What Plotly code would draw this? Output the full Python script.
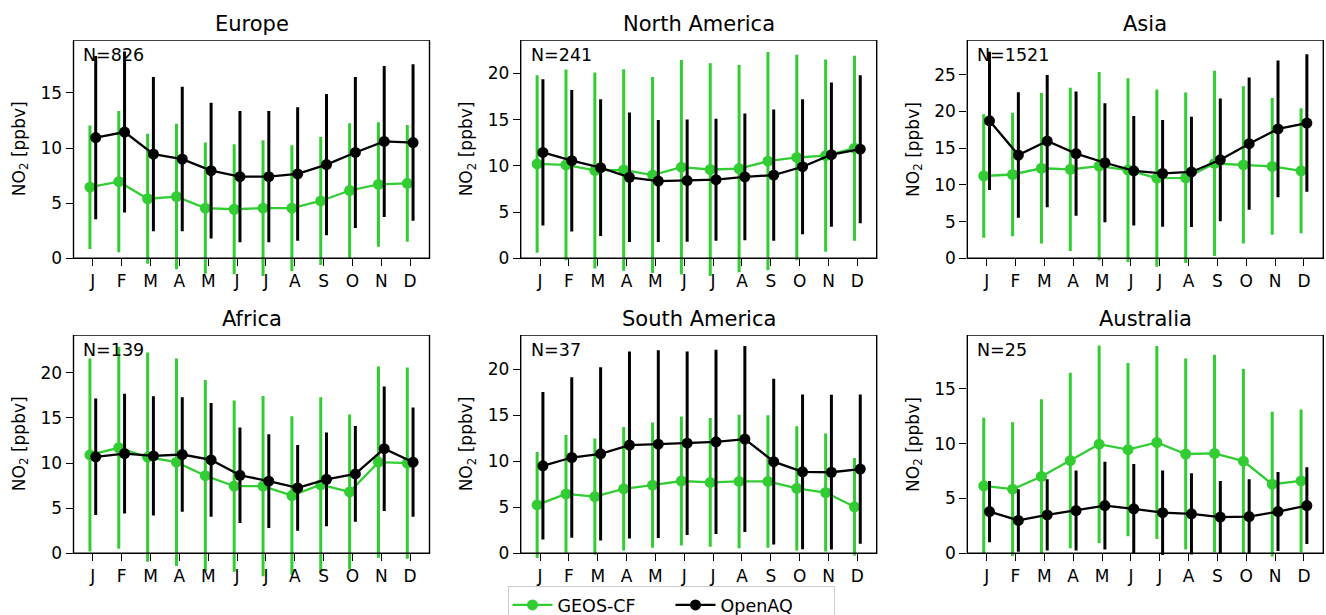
import numpy as np
import plotly.graph_objects as go

months = ["J", "F", "M", "A", "M", "J", "J", "A", "S", "O", "N", "D"]
regions = ["Europe", "North America", "Asia", "Africa", "South America", "Australia"]
n_sites = [826, 241, 1521, 139, 37, 25]

# GEOS-CF monthly mean and std (ppbv)
geos_europe_mean = [6.45, 6.95, 5.4, 5.6, 4.55, 4.45, 4.55, 4.55, 5.2, 6.15, 6.7, 6.8]
geos_europe_std = [5.6, 6.4, 5.9, 6.6, 5.95, 5.9, 6.15, 5.7, 5.8, 6.1, 5.65, 5.3]
geos_namerica_mean = [10.2, 10.1, 9.5, 9.55, 9.0, 9.85, 9.6, 9.7, 10.5, 10.9, 11.1, 11.9]
geos_namerica_std = [9.6, 10.3, 10.6, 10.9, 10.6, 11.6, 11.5, 11.2, 11.8, 11.1, 10.4, 10.0]
geos_asia_mean = [11.2, 11.4, 12.25, 12.1, 12.55, 12.0, 10.9, 10.95, 12.9, 12.7, 12.5, 11.9]
geos_asia_std = [8.4, 8.4, 10.25, 11.1, 12.8, 12.5, 12.05, 11.6, 12.6, 10.7, 9.3, 8.5]
geos_africa_mean = [10.9, 11.7, 10.65, 10.1, 8.6, 7.45, 7.45, 6.4, 7.6, 6.8, 10.1, 10.0]
geos_africa_std = [10.7, 11.2, 11.6, 11.5, 10.6, 9.5, 10.0, 8.8, 9.7, 8.6, 10.6, 10.6]
geos_samerica_mean = [5.25, 6.45, 6.15, 7.0, 7.4, 7.85, 7.7, 7.8, 7.8, 7.05, 6.6, 5.05]
geos_samerica_std = [5.75, 6.4, 6.3, 6.7, 6.8, 7.0, 7.0, 7.25, 7.2, 6.75, 6.4, 5.3]
geos_australia_mean = [6.15, 5.85, 7.0, 8.45, 9.95, 9.45, 10.1, 9.05, 9.1, 8.4, 6.3, 6.6]
geos_australia_std = [6.2, 6.1, 7.05, 8.0, 9.0, 7.9, 8.8, 8.7, 9.0, 8.4, 6.6, 6.5]

# OpenAQ monthly mean and std (ppbv)
oaq_europe_mean = [10.95, 11.45, 9.45, 9.0, 7.95, 7.4, 7.4, 7.65, 8.5, 9.6, 10.6, 10.5]
oaq_europe_std = [7.4, 7.3, 7.0, 6.55, 6.15, 5.95, 5.95, 6.05, 6.4, 6.85, 6.85, 7.1]
oaq_namerica_mean = [11.45, 10.55, 9.8, 8.75, 8.35, 8.4, 8.5, 8.8, 9.0, 9.9, 11.2, 11.8]
oaq_namerica_std = [7.9, 7.65, 7.4, 7.0, 6.6, 6.6, 6.6, 6.85, 7.1, 7.3, 7.8, 8.0]
oaq_asia_mean = [18.7, 14.05, 15.95, 14.25, 13.0, 11.9, 11.55, 11.75, 13.4, 15.6, 17.6, 18.4]
oaq_asia_std = [9.4, 8.55, 9.0, 8.45, 8.1, 7.45, 7.25, 7.5, 8.35, 9.0, 9.3, 9.35]
oaq_africa_mean = [10.7, 11.05, 10.8, 10.95, 10.35, 8.65, 8.0, 7.25, 8.2, 8.8, 11.6, 10.1]
oaq_africa_std = [6.45, 6.65, 6.6, 6.35, 6.3, 5.3, 5.2, 4.75, 5.2, 5.3, 6.9, 6.05]
oaq_samerica_mean = [9.5, 10.4, 10.8, 11.75, 11.85, 11.95, 12.1, 12.4, 9.95, 8.85, 8.8, 9.15]
oaq_samerica_std = [8.0, 8.7, 9.4, 10.15, 10.2, 9.95, 10.0, 10.1, 9.0, 8.4, 8.4, 8.1]
oaq_australia_mean = [3.8, 3.0, 3.5, 3.9, 4.35, 4.05, 3.7, 3.6, 3.3, 3.35, 3.8, 4.35]
oaq_australia_std = [2.8, 2.85, 3.25, 3.65, 4.0, 4.1, 3.85, 3.7, 3.3, 3.4, 3.6, 3.5]

geos_mean = [geos_europe_mean, geos_namerica_mean, geos_asia_mean,
             geos_africa_mean, geos_samerica_mean, geos_australia_mean]
geos_std = [geos_europe_std, geos_namerica_std, geos_asia_std,
            geos_africa_std, geos_samerica_std, geos_australia_std]
oaq_mean = [oaq_europe_mean, oaq_namerica_mean, oaq_asia_mean,
            oaq_africa_mean, oaq_samerica_mean, oaq_australia_mean]
oaq_std = [oaq_europe_std, oaq_namerica_std, oaq_asia_std,
           oaq_africa_std, oaq_samerica_std, oaq_australia_std]
y_top = [19.8, 23.6, 29.7, 24.2, 23.7, 19.9]

W, H = 1326, 615
GREEN = "#32cd32"
FONT = "DejaVu Sans"
col_px = [(73.5, 429.5), (520.7, 876.7), (967.3, 1323.3)]
row_px = [(40, 258.3), (335, 553.3)]
title_y_px = [24, 319]
EXT = 28  # px of plot area below the zero line (error bars are not clipped there)

xpos = np.arange(len(months))
off = 0.1

fig = go.Figure()
annotations = []
shapes = []
layout_axes = {}
for i, reg in enumerate(regions):
    r, c = divmod(i, 3)
    k = "" if i == 0 else str(i + 1)
    xa, ya = "x" + k, "y" + k
    x0, x1 = col_px[c][0] / W, col_px[c][1] / W
    top_px, zero_px = row_px[r]
    ppu = (zero_px - top_px) / y_top[i]
    y_min = -EXT / ppu
    yd0, yd1 = 1 - (zero_px + EXT) / H, 1 - top_px / H
    fig.add_trace(go.Scatter(
        x=xpos - off, y=geos_mean[i], mode="lines+markers", name="GEOS-CF",
        line=dict(color=GREEN, width=2.3), marker=dict(color=GREEN, size=11),
        error_y=dict(type="data", array=geos_std[i], color=GREEN, thickness=3, width=0),
        xaxis=xa, yaxis=ya, showlegend=(i == 0), legendgroup="g"))
    fig.add_trace(go.Scatter(
        x=xpos + off, y=oaq_mean[i], mode="lines+markers", name="OpenAQ",
        line=dict(color="black", width=2.3), marker=dict(color="black", size=11),
        error_y=dict(type="data", array=oaq_std[i], color="black", thickness=3, width=0),
        xaxis=xa, yaxis=ya, showlegend=(i == 0), legendgroup="o"))
    common = dict(showline=False, ticks="outside", ticklen=7, tickwidth=1.4, tickcolor="black",
                  showgrid=False, zeroline=False,
                  tickfont=dict(family=FONT, size=17, color="black"))
    layout_axes["xaxis" + k] = dict(domain=[x0, x1], anchor="free", position=1 - zero_px / H,
                                    range=[-0.67, 11.67],
                                    tickmode="array", tickvals=xpos, ticktext=months, **common)
    layout_axes["yaxis" + k] = dict(domain=[yd0, yd1], anchor=xa, range=[y_min, y_top[i]],
                                    tickmode="linear", tick0=0, dtick=5, **common)
    # axes frame (spines)
    shapes.append(dict(type="rect", xref=xa + " domain", yref=ya, x0=0, x1=1,
                       y0=0, y1=y_top[i], line=dict(color="black", width=1.4),
                       fillcolor="rgba(0,0,0,0)", layer="above"))
    annotations.append(dict(text=reg, x=(x0 + x1) / 2, y=1 - title_y_px[r] / H,
                            xref="paper", yref="paper", xanchor="center", yanchor="middle",
                            showarrow=False, font=dict(family=FONT, size=21, color="black")))
    annotations.append(dict(text="N=%d" % n_sites[i], x=0.022, y=y_top[i], yshift=-3,
                            xref=xa + " domain", yref=ya,
                            xanchor="left", yanchor="top", showarrow=False,
                            font=dict(family=FONT, size=17.5, color="black")))
    annotations.append(dict(text="NO<sub>2</sub> [ppbv]", textangle=-90,
                            x=(col_px[c][0] - 53.5) / W, y=1 - (top_px + zero_px) / 2 / H,
                            xref="paper", yref="paper", xanchor="center", yanchor="middle",
                            showarrow=False, font=dict(family=FONT, size=17, color="black")))

fig.update_layout(
    width=W, height=H,
    margin=dict(l=0, r=0, t=0, b=0, autoexpand=False),
    paper_bgcolor="white", plot_bgcolor="white",
    font=dict(family=FONT, color="black"),
    annotations=annotations,
    shapes=shapes,
    legend=dict(orientation="h", x=671 / W, y=1 - 586 / H, xanchor="center", yanchor="top",
                bordercolor="#cccccc", borderwidth=1, bgcolor="white",
                itemwidth=40, entrywidth=108,
                font=dict(family=FONT, size=17.5, color="black")),
    **layout_axes,
)
fig.write_html("out.html", config={"displayModeBar": False},
               post_script="document.body.style.margin='0';document.body.style.overflow='hidden';")
